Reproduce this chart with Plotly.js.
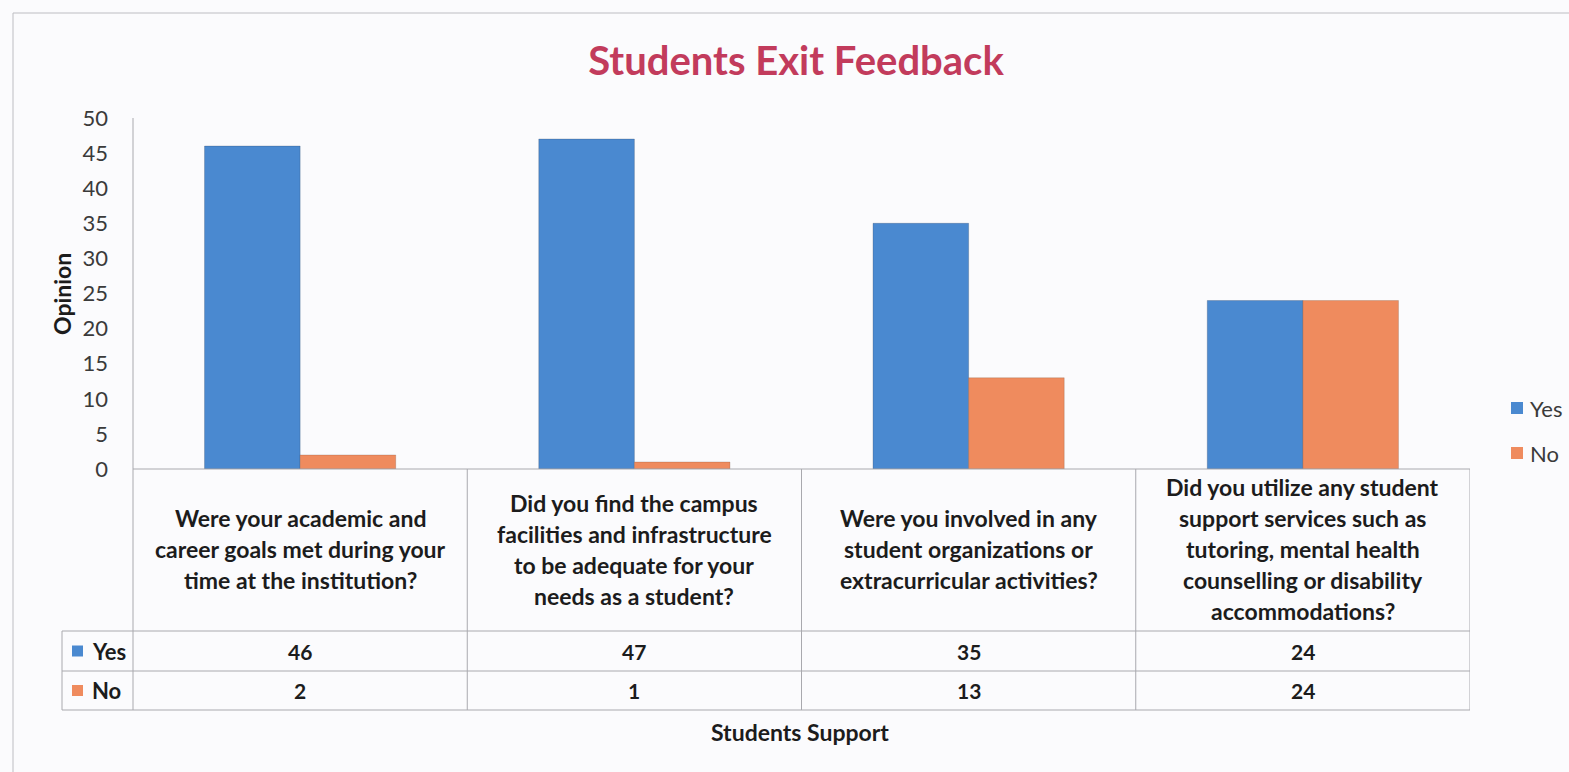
<!DOCTYPE html>
<html>
<head>
<meta charset="utf-8">
<script src="https://cdn.plot.ly/plotly-3.0.1.min.js"></script>
<style>
  html, body { margin: 0; padding: 0; background: #fbfbfd; }
  #chart { width: 1569px; height: 772px; }
</style>
</head>
<body>
<div id="chart"></div>
<script>
// ---------- data ----------
const categories = [
  'Were your academic and<br>career goals met during your<br>time at the institution?',
  'Did you find the campus<br>facilities and infrastructure<br>to be adequate for your<br>needs as a student?',
  'Were you involved in any<br>student organizations or<br>extracurricular activities?',
  'Did you utilize any student<br>support services such as<br>tutoring, mental health<br>counselling or disability<br>accommodations?'
];
const yesValues = [46, 47, 35, 24];
const noValues = [2, 1, 13, 24];
const seriesNames = ['Yes', 'No'];
const yTickValues = [0, 5, 10, 15, 20, 25, 30, 35, 40, 45, 50];
const chartTitle = 'Students Exit Feedback';
const yTitle = 'Opinion';
const xTitle = 'Students Support';

// ---------- styling / layout helpers ----------
const W = 1569, H = 772;
const PL = 133, PR = 1470, PT = 118, PB = 469;   // plot area in px
const px = p => (p - PL) / (PR - PL);           // px -> paper x
const py = p => (PB - p) / (PB - PT);           // px -> paper y
const FONT = 'Lato, "Open Sans", sans-serif';
const blue = '#4a89d0', orange = '#ef8b5e';
const gridCol = '#a9a9ae';
const textCol = '#1c1c1c';

const xIdx = categories.map((c, i) => i);

const traces = [
  { type: 'bar', name: seriesNames[0], x: xIdx, y: yesValues,
    marker: { color: blue, line: { color: 'rgba(40,60,90,0.45)', width: 0.6 } },
    hoverinfo: 'y+name', showlegend: false },
  { type: 'bar', name: seriesNames[1], x: xIdx, y: noValues,
    marker: { color: orange, line: { color: 'rgba(90,60,40,0.35)', width: 0.6 } },
    hoverinfo: 'y+name', showlegend: false }
];

const shapes = [];
const annotations = [];
const line = (x0, y0, x1, y1, xref, col, w) => shapes.push({
  type: 'line', xref: xref || 'paper', yref: 'paper',
  x0: x0, y0: y0, x1: x1, y1: y1,
  line: { color: col || gridCol, width: w || 1 }, layer: 'above'
});

// outer chart frame (left & top visible)
shapes.push({ type: 'rect', xref: 'paper', yref: 'paper',
  x0: px(13), y0: py(13), x1: px(1600), y1: py(800),
  line: { color: '#bdbdc2', width: 1 }, layer: 'below' });

// axis lines & data table grid
const rowTop = 631, rowMid = 671, rowBot = 710, tableLeft = 62;
line(px(PL), py(PT), px(PL), py(rowBot));                 // y axis line
line(px(PL), py(PB), px(PR), py(PB));                     // x axis line
[rowTop, rowMid, rowBot].forEach(r => line(px(tableLeft), py(r), px(PR), py(r)));
line(px(tableLeft), py(rowTop), px(tableLeft), py(rowBot));
for (let i = 0; i < categories.length; i++) {
  line(i + 0.5, py(PB), i + 0.5, py(rowBot), 'x');
}

// category labels inside the table (one annotation per line)
const lineGap = 31, labelCenter = 549;
categories.forEach((c, i) => {
  const parts = c.split('<br>');
  parts.forEach((t, j) => {
    annotations.push({
      xref: 'x', yref: 'paper', x: i,
      y: py(labelCenter + (j - (parts.length - 1) / 2) * lineGap),
      text: t, showarrow: false, xanchor: 'center', yanchor: 'middle',
      font: { family: FONT, size: 23, color: textCol, weight: 'bold' }
    });
  });
});

// value rows of the data table + legend keys
const rows = [
  { name: seriesNames[0], vals: yesValues, col: blue, y: (rowTop + rowMid) / 2, ly: 408 },
  { name: seriesNames[1], vals: noValues, col: orange, y: (rowMid + rowBot) / 2, ly: 453 }
];
rows.forEach(r => {
  shapes.push({ type: 'rect', xref: 'paper', yref: 'paper',
    x0: px(72), x1: px(83), y0: py(r.y - 5.5), y1: py(r.y + 5.5),
    fillcolor: r.col, line: { width: 0 } });
  annotations.push({ xref: 'paper', yref: 'paper', x: px(90), y: py(r.y),
    text: r.name, showarrow: false, xanchor: 'left', yanchor: 'middle',
    font: { family: FONT, size: 22, color: textCol, weight: 'bold' } });
  r.vals.forEach((v, i) => annotations.push({
    xref: 'x', yref: 'paper', x: i, y: py(r.y), text: String(v),
    showarrow: false, xanchor: 'center', yanchor: 'middle',
    font: { family: FONT, size: 21, color: textCol, weight: 'bold' } }));
  // right-hand legend
  shapes.push({ type: 'rect', xref: 'paper', yref: 'paper',
    x0: px(1511), x1: px(1523), y0: py(r.ly - 6), y1: py(r.ly + 6),
    fillcolor: r.col, line: { width: 0 } });
  annotations.push({ xref: 'paper', yref: 'paper', x: px(1528), y: py(r.ly),
    text: r.name, showarrow: false, xanchor: 'left', yanchor: 'middle',
    font: { family: FONT, size: 22, color: '#3a3a3a' } });
});

// axis titles
annotations.push({ xref: 'paper', yref: 'paper', x: px(62), y: py(294),
  text: yTitle, textangle: -90, showarrow: false, xanchor: 'center', yanchor: 'middle',
  font: { family: FONT, size: 23, color: textCol, weight: 'bold' } });
annotations.push({ xref: 'paper', yref: 'paper', x: px(800), y: py(732),
  text: xTitle, showarrow: false, xanchor: 'center', yanchor: 'middle',
  font: { family: FONT, size: 23, color: textCol, weight: 'bold' } });

const layout = {
  width: W, height: H,
  margin: { l: PL, r: W - PR, t: PT, b: H - PB, pad: 0 },
  paper_bgcolor: '#fbfbfd', plot_bgcolor: 'rgba(0,0,0,0)',
  title: { text: chartTitle, x: 796 / W, xanchor: 'center', y: 1 - 61 / H, yanchor: 'middle',
    font: { family: FONT, size: 40, color: '#c23b5c', weight: 'bold' } },
  barmode: 'group', bargap: 0.428, bargroupgap: 0,
  xaxis: { type: 'linear', range: [-0.5, 3.5], showticklabels: false, showgrid: false,
    zeroline: false, showline: false, ticks: '', fixedrange: true },
  yaxis: { range: [0, 50], tickvals: yTickValues, showgrid: false, zeroline: false,
    showline: false, ticks: '', ticklabelstandoff: 24,
    tickfont: { family: FONT, size: 22, color: '#3a3a3a' }, fixedrange: true },
  showlegend: false,
  shapes: shapes, annotations: annotations
};

Plotly.newPlot('chart', traces, layout, { displayModeBar: false });
</script>
</body>
</html>
